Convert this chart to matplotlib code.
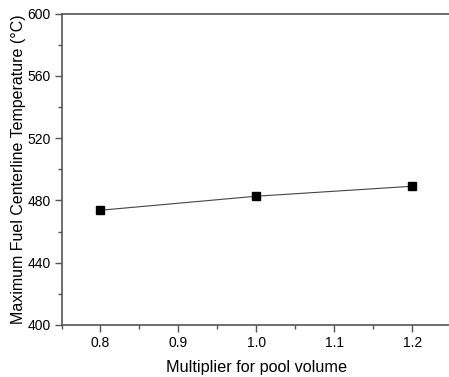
import matplotlib
matplotlib.use("Agg")
import matplotlib.pyplot as plt
from matplotlib.ticker import MultipleLocator

plt.rcParams['font.family'] = ['Liberation Sans', 'DejaVu Sans']

# Data
multiplier = [0.8, 1.0, 1.2]
temperature = [473.7, 482.7, 489.1]

fig = plt.figure(figsize=(4.49, 3.77), dpi=100)
ax = fig.add_axes([0.137, 0.138, 0.868, 0.826])

ax.plot(multiplier, temperature, '-', color='#444444', lw=0.8,
        marker='s', markersize=6, markerfacecolor='black', markeredgecolor='black')

ax.set_xlim(0.75, 1.25)
ax.set_ylim(400, 600)
ax.xaxis.set_major_locator(MultipleLocator(0.1))
ax.xaxis.set_minor_locator(MultipleLocator(0.05))
ax.yaxis.set_major_locator(MultipleLocator(40))
ax.yaxis.set_minor_locator(MultipleLocator(20))
ax.xaxis.set_major_formatter(matplotlib.ticker.FormatStrFormatter('%.1f'))

spine_color = '#555555'
for side in ['left', 'bottom', 'top']:
    ax.spines[side].set_color(spine_color)
    ax.spines[side].set_linewidth(1.2)
ax.spines['right'].set_visible(False)

ax.tick_params(which='major', direction='out', length=5, width=1, color=spine_color,
               labelsize=10, pad=3, top=False, right=False)
ax.tick_params(which='minor', direction='out', length=3, width=1, color=spine_color,
               top=False, right=False)

ax.set_xlabel("Multiplier for pool volume", fontsize=11.7, labelpad=7)
ax.set_ylabel("Maximum Fuel Centerline Temperature (°C)", fontsize=11.5, labelpad=1)

fig.savefig("out.png", dpi=100)
